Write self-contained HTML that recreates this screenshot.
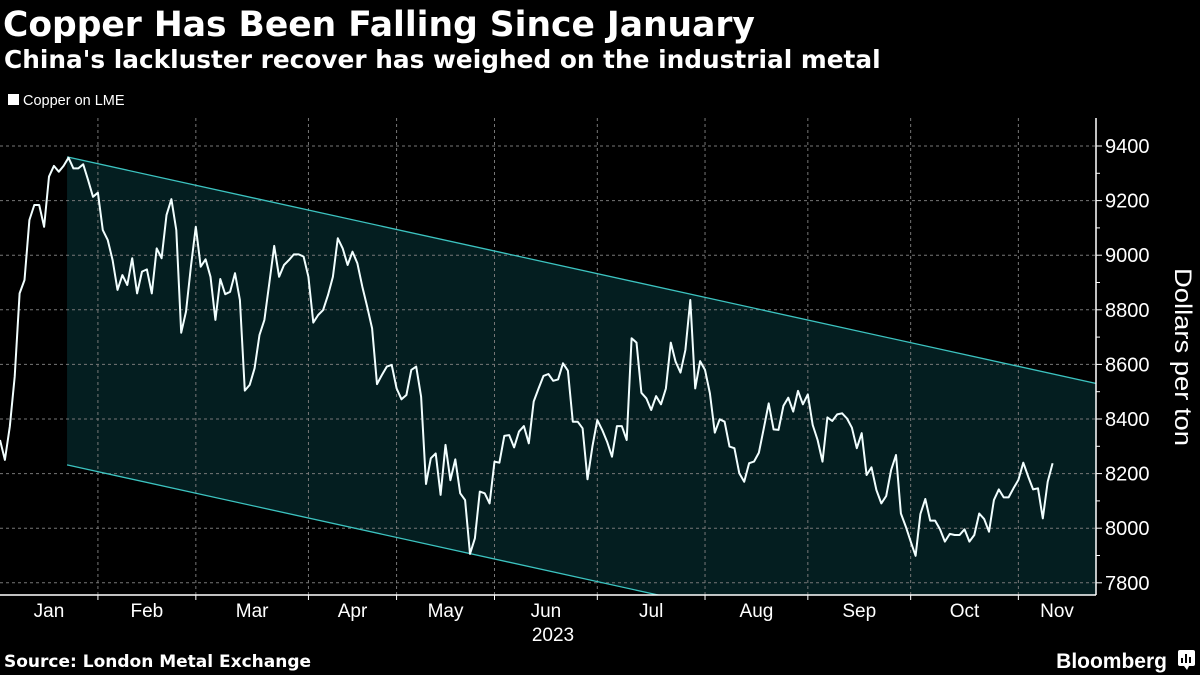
<!DOCTYPE html>
<html><head><meta charset="utf-8"><style>
body{margin:0;background:#000;width:1200px;height:675px;overflow:hidden;font-family:"Liberation Sans",sans-serif;color:#fff}
svg{position:absolute;left:0;top:0}
</style></head><body>
<svg width="1200" height="675">
<text x="3" y="36" font-size="34.5" font-weight="bold" fill="#fff" font-family="DejaVu Sans, sans-serif">Copper Has Been Falling Since January</text>
<text x="4" y="68" font-size="24.8" font-weight="bold" fill="#fff" font-family="DejaVu Sans, sans-serif">China's lackluster recover has weighed on the industrial metal</text>
<rect x="8" y="94" width="11" height="11" fill="#fff"/>
<text x="23" y="105" font-size="14.5" fill="#fff">Copper on LME</text>
<g id="plot"></g>
<text x="4" y="667" font-size="17" font-weight="bold" fill="#fff" font-family="DejaVu Sans, sans-serif">Source: London Metal Exchange</text>
<text x="1167" y="668" font-size="21" font-weight="bold" fill="#fff" text-anchor="end">Bloomberg</text>
<g><rect x="1178" y="650" width="17" height="16" rx="2" fill="#fff"/><path d="M1184 666 L1187 670 L1189 666Z" fill="#fff"/><rect x="1181" y="658" width="2" height="5" fill="#000"/><rect x="1185" y="654" width="2" height="9" fill="#000"/><rect x="1189" y="657" width="2" height="6" fill="#000"/></g>
</svg>
<script>
const values=[8323,8250,8372,8555,8860,8909,9129,9184,9184,9104,9288,9327,9306,9327,9357,9318,9318,9333,9275,9214,9229,9092,9056,8982,8873,8927,8891,8989,8860,8940,8948,8860,9025,8989,9147,9205,9092,8716,8793,8958,9104,8958,8985,8921,8763,8913,8857,8866,8934,8836,8504,8525,8586,8708,8763,8897,9034,8921,8964,8982,9003,9003,8995,8921,8753,8781,8799,8854,8921,9062,9025,8964,9013,8970,8885,8811,8732,8528,8561,8592,
8598,8512,8472,8488,8580,8592,8482,8162,8256,8274,8122,8305,8176,8252,8128,8103,7906,7963,8134,8128,8091,8244,8240,8338,8341,8296,8354,8374,8311,8464,8512,8558,8565,8540,8545,8604,8577,8390,8390,8366,8179,8299,8396,8360,8317,8262,8374,8374,8323,8696,8680,8496,8476,8433,8484,8454,8512,8680,8610,8570,8653,8836,8512,8612,8580,8494,8350,8399,8390,8299,8293,8201,8170,8238,8244,8277,8366,
8457,8362,8360,8448,8478,8427,8503,8454,8490,8378,8323,8244,8406,8393,8417,8421,8402,8368,8293,8348,8195,8223,8140,8091,8118,8213,8268,8054,8006,7951,7899,8052,8107,8028,8028,7996,7951,7979,7975,7975,7996,7951,7975,8054,8034,7987,8103,8142,8113,8113,8146,8177,8240,8189,8142,8146,8036,8170,8238];
const monthLabels=["Jan","Feb","Mar","Apr","May","Jun","Jul","Aug","Sep","Oct","Nov"];
const monthStarts=[-1,20,40,63,81,101,122,144,165,186,208];
const yTicks=[7800,8000,8200,8400,8600,8800,9000,9200,9400];
const channelStart=[13.7,9360,8232];
const channelEnd=[223.9,8530];
const X0=0,STEP=4.896,AX=1096,TOP=118,BOT=595;
const xs=i=>X0+i*STEP;
const ys=v=>146+(9400-v)*54.6/200;
const NS="http://www.w3.org/2000/svg";
const g=document.getElementById('plot');
function mk(t,a){const e=document.createElementNS(NS,t);for(const k in a)e.setAttribute(k,a[k]);g.appendChild(e);return e;}
const slope=(channelEnd[1]-channelStart[1])/(channelEnd[0]-channelStart[0]);
const lowEnd=channelStart[2]+slope*(channelEnd[0]-channelStart[0]);
const cp=mk('clipPath',{id:'cl'});const cr=document.createElementNS(NS,'rect');cr.setAttribute('x',0);cr.setAttribute('y',TOP);cr.setAttribute('width',AX);cr.setAttribute('height',BOT-TOP);cp.appendChild(cr);
const chFill=mk('polygon',{points:`${xs(channelStart[0])},${ys(channelStart[1])} ${xs(channelEnd[0])},${ys(channelEnd[1])} ${xs(channelEnd[0])},${ys(lowEnd)} ${xs(channelStart[0])},${ys(channelStart[2])}`,fill:'#041e20','clip-path':'url(#cl)'});


yTicks.forEach(v=>{const y=ys(v);
const l=mk('line',{x1:0,x2:AX,y1:y,y2:y,stroke:'#777','stroke-width':1,'stroke-dasharray':'3,3'});


const tk=mk('line',{x1:AX,x2:AX+6,y1:y,y2:y,stroke:'#fff'});


const t=mk('text',{x:AX+9,y:y+7,'font-size':20,fill:'#fff'});t.textContent=v;


const m=ys(v+100);if(v<9400){const mt=mk('line',{x1:AX,x2:AX+4,y1:m,y2:m,stroke:'#fff'});

}
});
monthStarts.forEach((s,i)=>{
if(i>0){const x=xs(s);
const l=mk('line',{x1:x,x2:x,y1:TOP,y2:BOT,stroke:'#777','stroke-dasharray':'3,3'});


const tk=mk('line',{x1:x,x2:x,y1:BOT,y2:BOT+5,stroke:'#fff'});

}
const a=i==0?0:xs(s),b=i<monthStarts.length-1?xs(monthStarts[i+1]):AX;
const cx=i==0?49:(i==monthStarts.length-1?1057:(a+b)/2);
const t=mk('text',{x:cx,y:617,'font-size':19,fill:'#fff','text-anchor':'middle'});t.textContent=monthLabels[i];


});
const yr=mk('text',{x:553,y:641,'font-size':19,fill:'#fff','text-anchor':'middle'});yr.textContent='2023';


const up=mk('line',{x1:xs(channelStart[0]),y1:ys(channelStart[1]),x2:xs(channelEnd[0]),y2:ys(channelEnd[1]),stroke:'#3cc3c0','stroke-width':1.3,'clip-path':'url(#cl)'});


const lo=mk('line',{x1:xs(channelStart[0]),y1:ys(channelStart[2]),x2:xs(channelEnd[0]),y2:ys(lowEnd),stroke:'#3cc3c0','stroke-width':1.3,'clip-path':'url(#cl)'});


const ax=mk('line',{x1:0,x2:AX,y1:BOT,y2:BOT,stroke:'#fff','stroke-width':1.5});


const ay=mk('line',{x1:AX,x2:AX,y1:TOP,y2:BOT,stroke:'#fff','stroke-width':1.5});


const yt=mk('text',{x:0,y:0,'font-size':24,fill:'#fff','text-anchor':'middle',textLength:178,lengthAdjust:'spacingAndGlyphs',transform:'translate(1175,357) rotate(90)'});yt.textContent='Dollars per ton';


const pl=mk('polyline',{points:values.map((v,i)=>xs(i).toFixed(1)+','+ys(v).toFixed(1)).join(' '),fill:'none',stroke:'#f2ffff','stroke-width':2,'stroke-linejoin':'round'});


</script>
</body></html>
